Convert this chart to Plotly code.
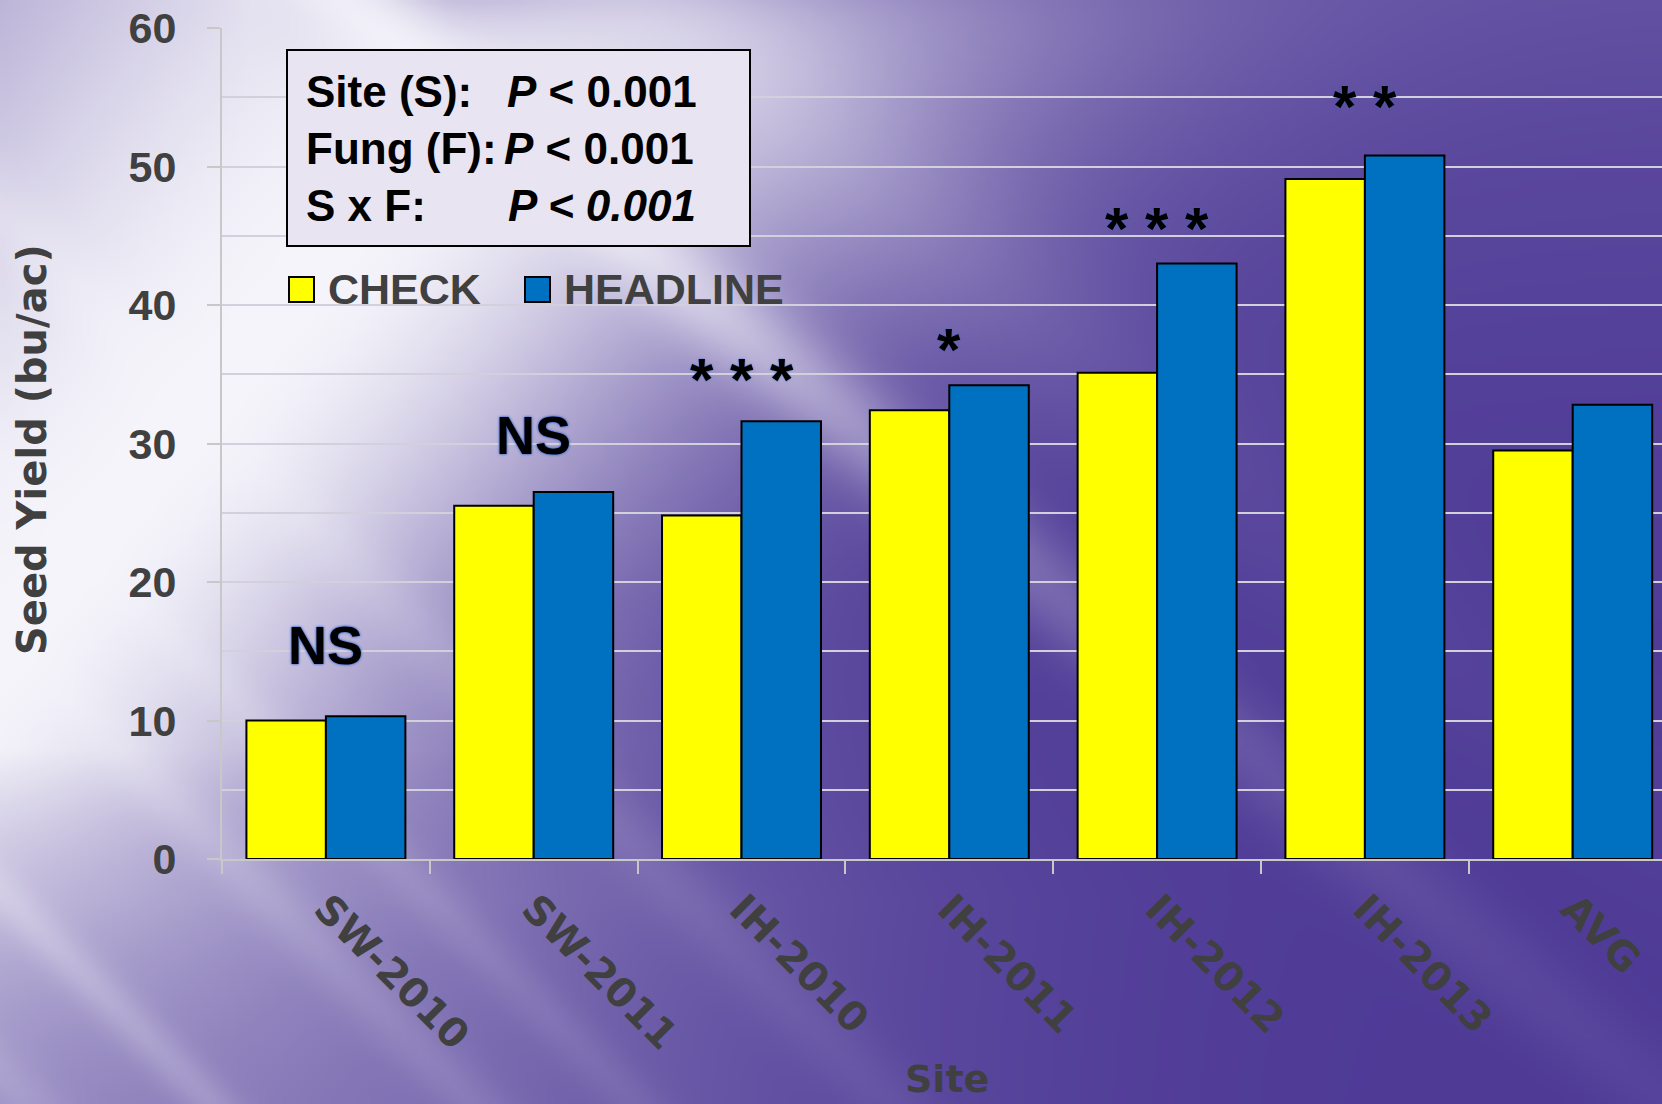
import numpy as np, zlib, struct, base64
import plotly.graph_objects as go

# ---------------- data ----------------
sites = ["SW-2010", "SW-2011", "IH-2010", "IH-2011", "IH-2012", "IH-2013", "AVG"]
check = [10.0, 25.5, 24.8, 32.4, 35.1, 49.1, 29.5]
headline = [10.3, 26.5, 31.6, 34.2, 43.0, 50.8, 32.8]
sig_labels = ["NS", "NS", "* * *", "*", "* * *", "* *", ""]
stats_rows = [("Site (S):", "<i>P</i> < 0.001"),
              ("Fung (F):", "<i>P</i> < 0.001"),
              ("S x F:", "<i>P < 0.001</i>")]
y_ticks = [0, 10, 20, 30, 40, 50, 60]

# ---------------- geometry ----------------
W, H = 1662, 1104
ML, MR, MT, MB = 222, 0, 28, 245
PW, PH = W - ML - MR, H - MT - MB
def px(X): return (X - ML) / PW
def py(Y): return (MT + PH - Y) / PH

# ---------------- background picture ----------------
s = 4
w, h = int(np.ceil(W / s)), int(np.ceil(H / s))
XX, YY = np.meshgrid((np.arange(w) + 0.5) * s, (np.arange(h) + 0.5) * s)
n = 0.77 * XX + 0.64 * YY
n0 = 420.0
band = np.where(n < n0, np.exp(-((n - n0) / 600.0) ** 2), np.exp(-((n - n0) / 380.0) ** 2))
band *= np.exp(-np.maximum(YY - 750, 0) / 400.0)
band *= 1 - 0.35 * np.exp(-YY / 50.0) * np.clip((XX - 250) / 200.0, 0, 1)
comps = [band,
         0.12 * np.exp(-YY / 300.0),
         0.30 * np.exp(-((XX - 200) / 600.0) ** 2) * np.clip((YY - 600) / 300.0, 0, 1)]
# main bright streak (about 37 deg)
m1 = -0.64 * XX + 0.77 * YY
comps.append(0.8 * np.exp(-((m1 + 220) / 45.0) ** 2) * np.exp(-np.maximum(n - 550, 0) / 500.0))
comps.append(0.25 * np.exp(-((m1 + 420) / 90.0) ** 2) * np.exp(-np.maximum(n - 500, 0) / 500.0))
# lower-left streaks (about 45 deg)
m2 = 0.707 * (YY - XX)
for mi, wi, ai in [(630, 22, 0.45), (445, 28, 0.35), (330, 25, 0.3), (760, 30, 0.3), (150, 35, 0.3)]:
    comps.append(ai * np.exp(-((m2 - mi) / wi) ** 2) * np.exp(-np.maximum(n - 300, 0) / 700.0))
L = np.ones_like(n)
for c in comps:
    L *= (1 - np.clip(c, 0, 1))
L = 1 - L
dark = np.array([78, 58, 150], float)
light = np.array([246, 245, 251], float)
img = (dark[None, None, :] + (light - dark)[None, None, :] * L[:, :, None]).clip(0, 255).astype(np.uint8)

def png_bytes(arr):
    hh, ww, _ = arr.shape
    raw = b"".join(b"\x00" + arr[r].tobytes() for r in range(hh))
    def chunk(tag, data):
        return struct.pack(">I", len(data)) + tag + data + struct.pack(">I", zlib.crc32(tag + data) & 0xffffffff)
    return (b"\x89PNG\r\n\x1a\n" + chunk(b"IHDR", struct.pack(">IIBBBBB", ww, hh, 8, 2, 0, 0, 0))
            + chunk(b"IDAT", zlib.compress(raw, 9)) + chunk(b"IEND", b""))
uri = "data:image/png;base64," + base64.b64encode(png_bytes(img)).decode()

# ---------------- figure ----------------
fig = go.Figure()
fig.add_bar(x=sites, y=check, name="CHECK",
            marker=dict(color="#FFFF00", line=dict(color="black", width=2)))
fig.add_bar(x=sites, y=headline, name="HEADLINE",
            marker=dict(color="#0070C0", line=dict(color="black", width=2)))

axis_gray = "#c8c8c8"
grid = "#d2d0dc"
fig.update_layout(
    width=W, height=H, margin=dict(l=ML, r=MR, t=MT, b=MB),
    barmode="group", bargap=0.235, bargroupgap=0, showlegend=False,
    paper_bgcolor="#4e3a96", plot_bgcolor="rgba(0,0,0,0)",
    images=[dict(source=uri, xref="paper", yref="paper", x=px(0), y=py(0),
                 sizex=W / PW, sizey=H / PH, xanchor="left", yanchor="top",
                 sizing="stretch", layer="below")],
    xaxis=dict(type="category", range=[-0.5, -0.5 + PW / 207.8], tickson="boundaries",
               ticks="outside", ticklen=13, tickwidth=2, tickcolor=axis_gray,
               showline=True, linecolor=axis_gray, linewidth=2, showgrid=False,
               tickangle=45, ticklabelstandoff=8,
               tickfont=dict(family="DejaVu Sans", size=40, color="#404040", weight="bold")),
    yaxis=dict(range=[0, 60], tickvals=y_ticks, ticks="outside", ticklen=13, tickwidth=2,
               tickcolor=axis_gray, showline=True, linecolor=axis_gray, linewidth=2,
               showgrid=True, gridcolor=grid, gridwidth=2, zeroline=False,
               minor=dict(dtick=5, showgrid=True, gridcolor=grid, gridwidth=2, ticks=""),
               ticklabelstandoff=22,
               tickfont=dict(family="Liberation Sans", size=43, color="#404040", weight="bold")),
)

ann = []
# axis titles
ann.append(dict(text="Seed Yield (bu/ac)", xref="paper", yref="paper", x=px(32), y=py(450),
                textangle=-90, showarrow=False, xanchor="center", yanchor="middle",
                font=dict(family="DejaVu Sans", size=40, color="#404040", weight="bold")))
ann.append(dict(text="Site", xref="paper", yref="paper", x=px(947), y=py(1103),
                showarrow=False, xanchor="center", yanchor="bottom",
                font=dict(family="DejaVu Sans", size=38, color="#404040", weight="bold")))

# stats box
shapes = [dict(type="rect", xref="paper", yref="paper", x0=px(287), x1=px(750), y0=py(246), y1=py(50),
               fillcolor="#e9e4f1", line=dict(color="black", width=2), layer="above")]
row_y = [92, 148, 205]
val_x = [505, 502, 506]
for (lab, val), yy, vx in zip(stats_rows, row_y, val_x):
    for t, xx in ((lab, 304), (val, vx)):
        ann.append(dict(text=t, xref="paper", yref="paper", x=px(xx), y=py(yy), showarrow=False,
                        xanchor="left", yanchor="middle",
                        font=dict(family="Liberation Sans", size=44, color="black", weight="bold")))

# manual legend
leg = [("CHECK", "#FFFF00", 289, 326), ("HEADLINE", "#0070C0", 525, 562)]
for name, col, sx, tx in leg:
    shapes.append(dict(type="rect", xref="paper", yref="paper", x0=px(sx), x1=px(sx + 25),
                       y0=py(302), y1=py(277), fillcolor=col, line=dict(color="black", width=2),
                       layer="above"))
    ann.append(dict(text=name, xref="paper", yref="paper", x=px(tx), y=py(289), showarrow=False,
                    xanchor="left", yanchor="middle",
                    font=dict(family="Liberation Sans", size=43, color="#404040", weight="bold")))

# significance labels
sig_y = [15.45, 30.6, 34.65, 36.8, 45.5, 54.3, 0]
for site, lab, yy in zip(sites, sig_labels, sig_y):
    if not lab:
        continue
    if lab == "NS":
        f = dict(family="Liberation Sans", size=54, color="black", weight="bold",
                 shadow="0px 0px 2px #3a6bd0, 0px 0px 3px #3a6bd0")
    else:
        f = dict(family="Liberation Sans", size=60, color="black", weight="bold",
                 shadow="0px 0px 2px #3a6bd0")
    ann.append(dict(text=lab, x=site, y=yy, xref="x", yref="y", showarrow=False,
                    xanchor="center", yanchor="middle", font=f))

fig.update_layout(annotations=ann, shapes=shapes)
fig.write_html("out.html", config={"displayModeBar": False},
               post_script="document.body.style.margin='0';document.body.style.overflow='hidden';")
